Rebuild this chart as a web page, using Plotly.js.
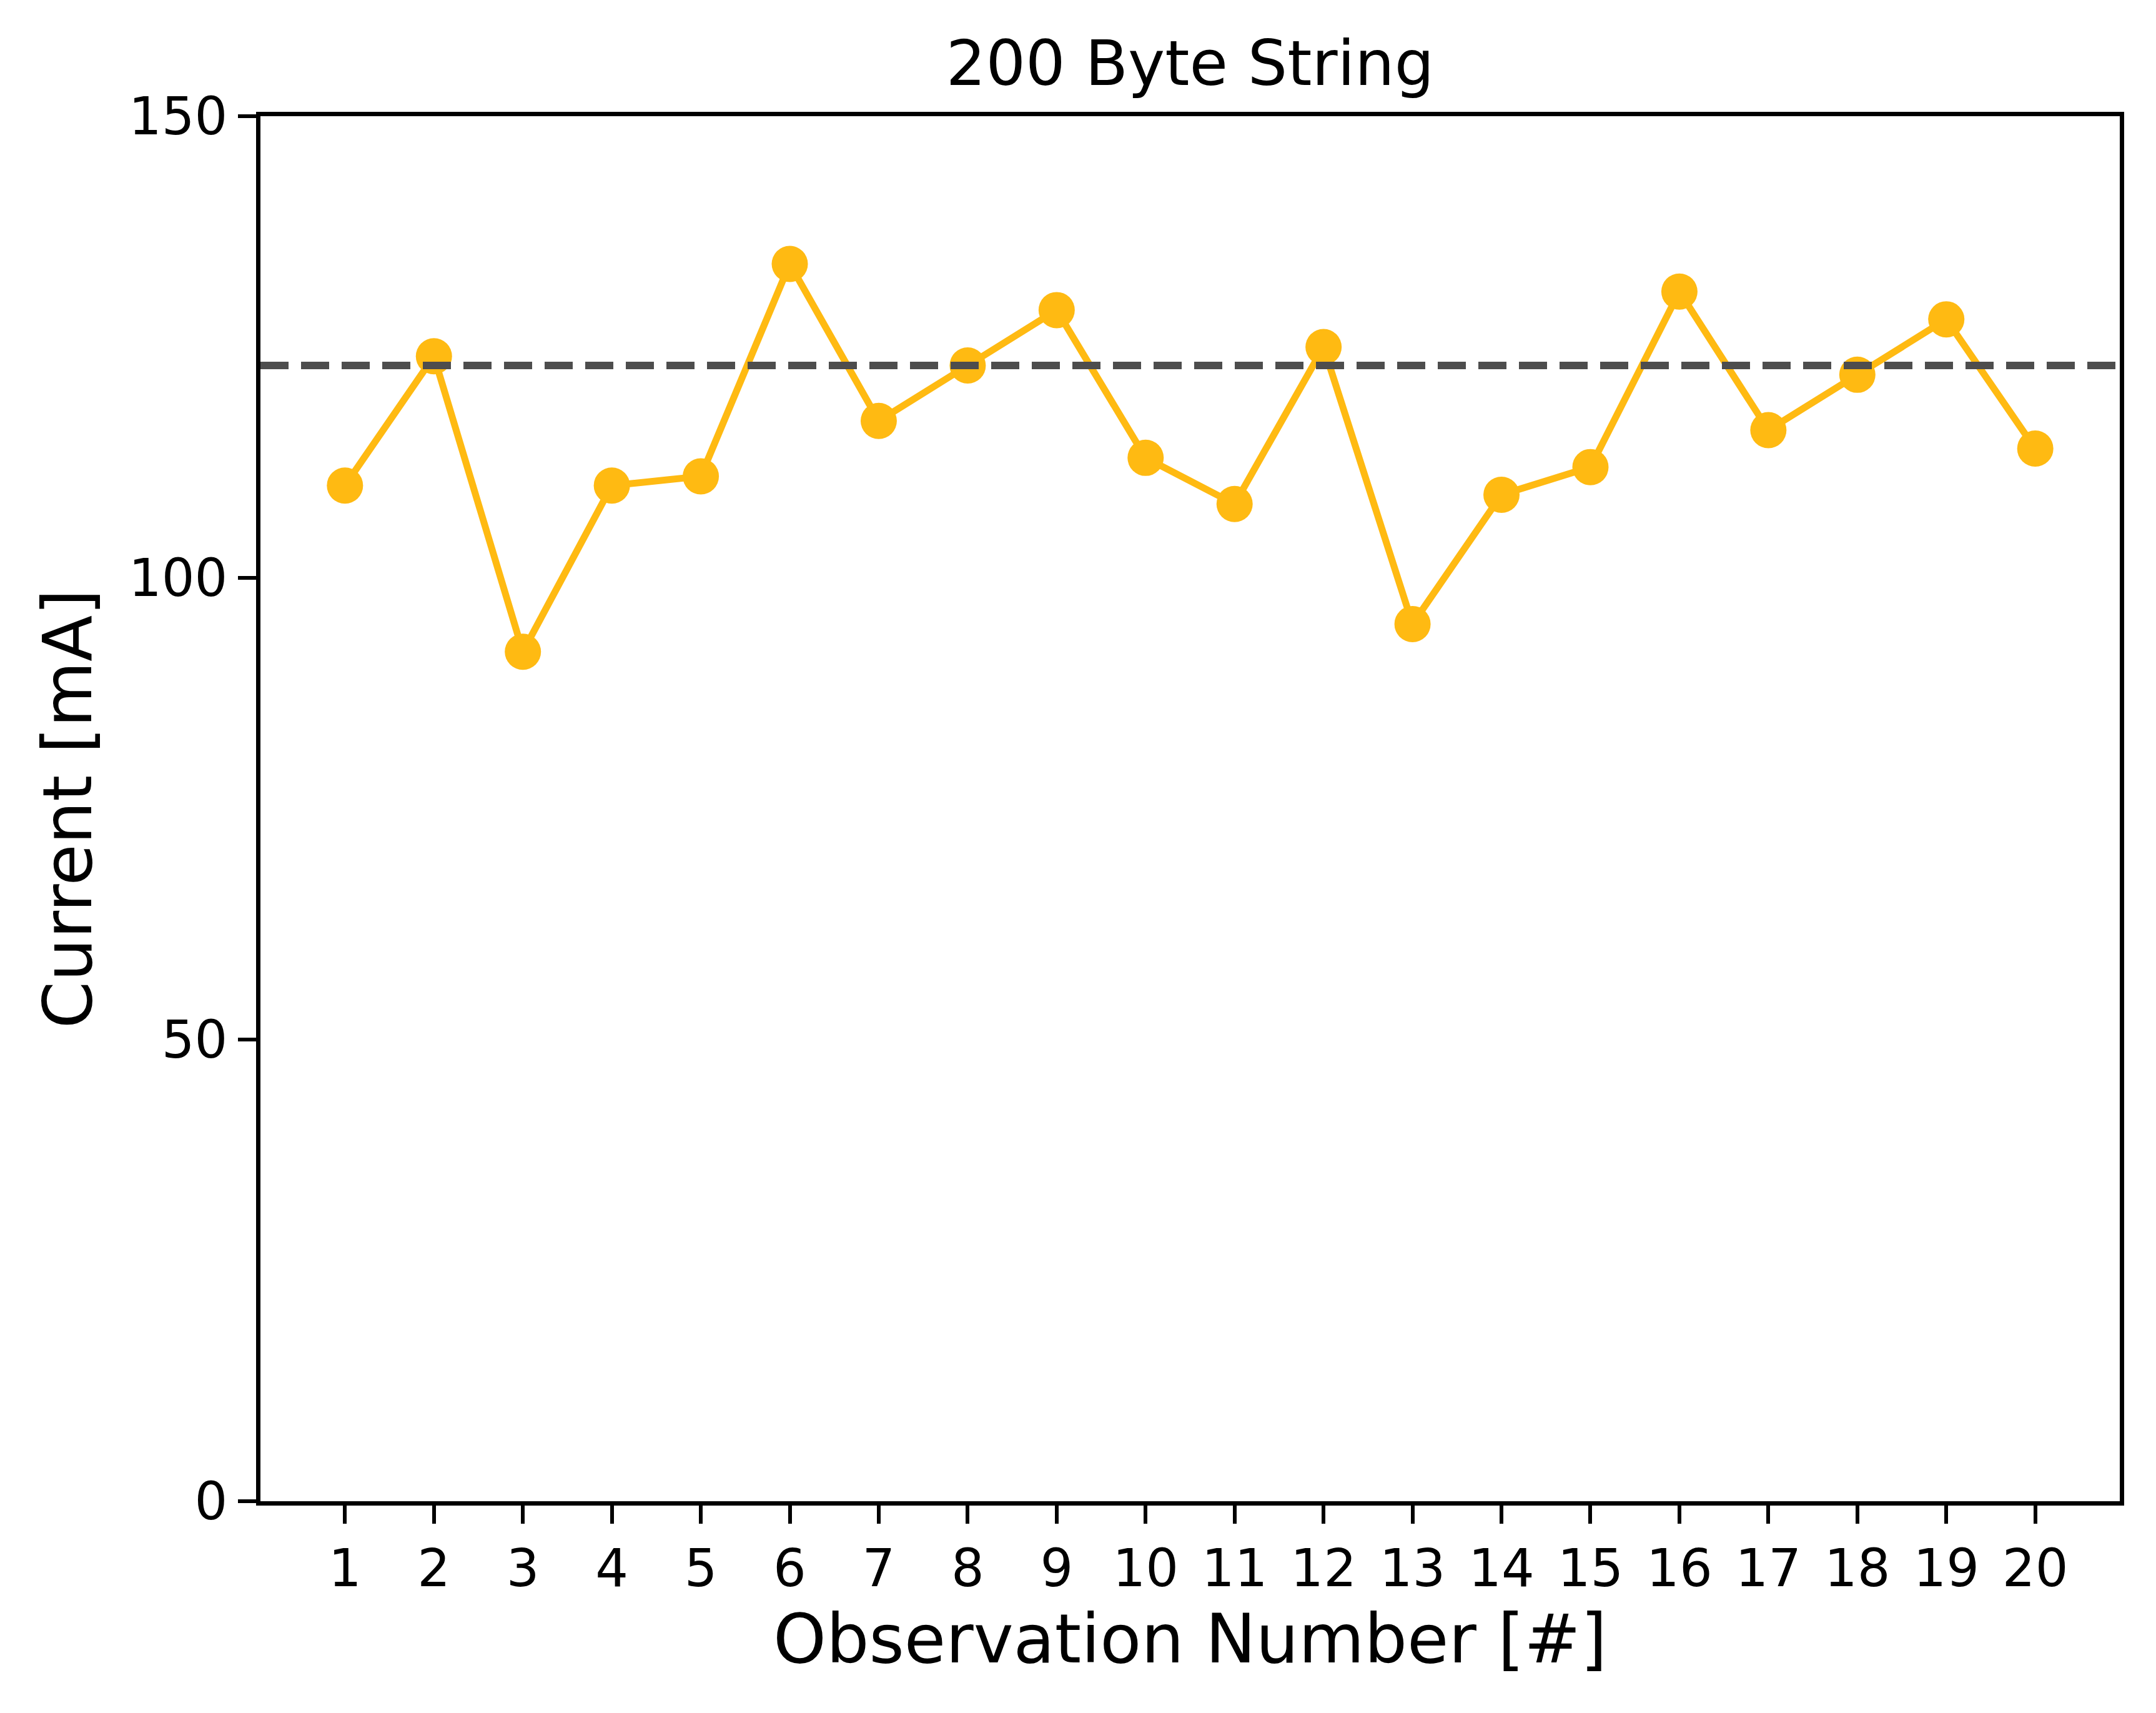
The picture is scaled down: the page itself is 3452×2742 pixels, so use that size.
<!DOCTYPE html>
<html>
<head>
<meta charset="utf-8">
<script src="https://cdn.plot.ly/plotly-3.0.1.min.js"></script>
<style>
  html, body { margin: 0; padding: 0; background: #fff; }
  #chart { width: 3452px; height: 2742px; }
</style>
</head>
<body>
<div id="chart"></div>
<script>
// observation numbers and measured current (mA)
let observations = [1, 2, 3, 4, 5, 6, 7, 8, 9, 10, 11, 12, 13, 14, 15, 16, 17, 18, 19, 20];
let current_ma = [110, 124, 92, 110, 111, 134, 117, 123, 129, 113, 108, 125, 95, 109, 112, 131, 116, 122, 128, 114];
let reference_ma = 123;   // dashed horizontal line
let y_ticks = [0, 50, 100, 150];

const font_family = 'DejaVu Sans, sans-serif';

let current_trace = {
  x: observations,
  y: current_ma,
  type: 'scatter',
  mode: 'lines+markers',
  line: {color: '#ffba12', width: 11},
  marker: {color: '#ffba12', size: 58},
  hoverinfo: 'skip',
  showlegend: false
};

let layout = {
  width: 3452,
  height: 2742,
  margin: {l: 417, r: 58, t: 186, b: 339},
  paper_bgcolor: '#ffffff',
  plot_bgcolor: '#ffffff',
  font: {family: font_family, color: '#000000', size: 83},
  showlegend: false,
  title: {
    text: '200 Byte String',
    font: {family: font_family, size: 100, color: '#000000'},
    x: 0.5, xref: 'paper', xanchor: 'center',
    y: 1, yref: 'paper', yanchor: 'bottom',
    pad: {b: 50}
  },
  xaxis: {
    range: [0.05, 20.95],
    tickmode: 'array',
    tickvals: observations,
    ticktext: observations.map(String),
    ticks: 'outside', ticklen: 29, tickwidth: 6, tickcolor: '#000',
    showline: true, linecolor: '#000', linewidth: 7, mirror: true,
    showgrid: false, zeroline: false,
    tickfont: {family: font_family, size: 83, color: '#000'},
    title: {text: 'Observation Number [#]', font: {family: font_family, size: 108, color: '#000'}, standoff: 30}
  },
  yaxis: {
    range: [0, 150],
    tickmode: 'array',
    tickvals: y_ticks,
    ticks: 'outside', ticklen: 29, tickwidth: 6, tickcolor: '#000',
    showline: true, linecolor: '#000', linewidth: 7, mirror: true,
    showgrid: false, zeroline: false,
    tickfont: {family: font_family, size: 83, color: '#000'},
    title: {text: 'Current [mA]', font: {family: font_family, size: 108, color: '#000'}, standoff: 26}
  },
  shapes: [{
    type: 'line', xref: 'paper', x0: 0, x1: 1, yref: 'y', y0: reference_ma, y1: reference_ma,
    line: {color: '#4d4d4d', width: 12, dash: '45px,20px'},
    layer: 'above'
  }]
};

Plotly.newPlot('chart', [current_trace], layout, {staticPlot: true, displayModeBar: false});
</script>
</body>
</html>
